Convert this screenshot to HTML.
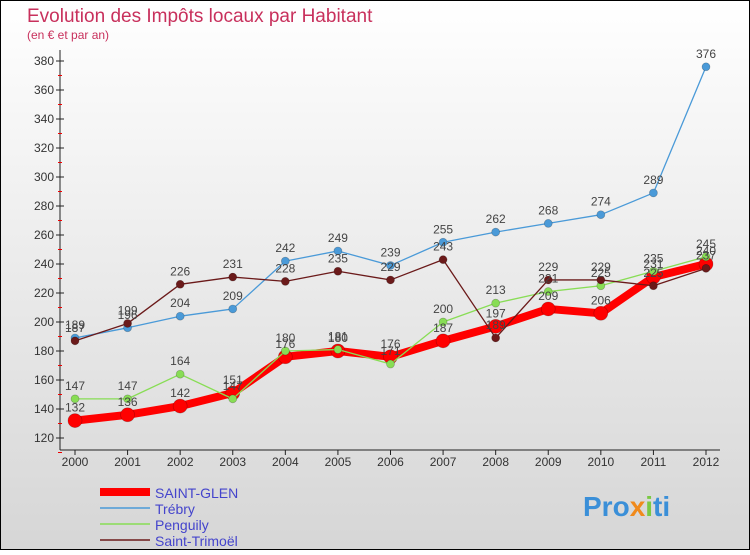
<!DOCTYPE html>
<html><head><meta charset="utf-8"><style>
body{margin:0;}
#c{width:750px;height:550px;position:relative;font-family:"Liberation Sans",sans-serif;}
</style></head><body>
<div id="c">
<svg width="750" height="550" xmlns="http://www.w3.org/2000/svg" id="svg">
<defs><linearGradient id="bg" x1="0" y1="0" x2="0" y2="1"><stop offset="0" stop-color="#ffffff"/><stop offset="1" stop-color="#d6d6d6"/></linearGradient></defs>
<rect x="0.5" y="0.5" width="749" height="549" fill="url(#bg)" stroke="#000"/>
<text x="27" y="22" font-size="19" fill="#c8305c">Evolution des Impôts locaux par Habitant</text>
<text x="27" y="39" font-size="12" fill="#c8305c">(en € et par an)</text>
<g id="axes"></g><g id="series"></g><g id="labels"></g>
<g>
<line x1="100" y1="492" x2="150" y2="492" stroke="#f00" stroke-width="8"/>
<text x="155" y="498" font-size="14" fill="#4444cc">SAINT-GLEN</text>
<line x1="100" y1="508" x2="150" y2="508" stroke="#4a9ad8" stroke-width="1.5"/>
<text x="155" y="514" font-size="14" fill="#4444cc">Trébry</text>
<line x1="100" y1="524" x2="150" y2="524" stroke="#88dd55" stroke-width="1.5"/>
<text x="155" y="530" font-size="14" fill="#4444cc">Penguily</text>
<line x1="100" y1="540" x2="150" y2="540" stroke="#6b1a1a" stroke-width="1.5"/>
<text x="155" y="546" font-size="14" fill="#4444cc">Saint-Trimoël</text>
</g>
<text x="583" y="516" font-size="28" font-weight="bold" fill="#3a8fd8">Pro<tspan fill="#f08a1c">x</tspan><tspan fill="#7ac943">i</tspan>ti</text>
</svg>
</div>
<script>
const years=[2000,2001,2002,2003,2004,2005,2006,2007,2008,2009,2010,2011,2012];
const yTicks=[120,140,160,180,200,220,240,260,280,300,320,340,360,380];
const saintGlen=[132,136,142,151,176,180,176,187,197,209,206,231,240];
const trebry=[189,196,204,209,242,249,239,255,262,268,274,289,376];
const penguily=[147,147,164,147,180,181,171,200,213,221,225,235,245];
const saintTrimoel=[187,199,226,231,228,235,229,243,189,229,229,225,237];
const NS="http://www.w3.org/2000/svg";
function xS(i){return 75+i*(706-75)/(years.length-1);}
function yS(v){return 438-(v-120)*(438-61)/260;}
function mk(t,a,p){const e=document.createElementNS(NS,t);for(const k in a)e.setAttribute(k,a[k]);p.appendChild(e);return e;}
const ax=document.getElementById('axes');
const axl=mk('line',{x1:60,y1:50,x2:60,y2:450,stroke:'#222'},ax);


const bx=mk('line',{x1:60,y1:450,x2:720,y2:450,stroke:'#222'},ax);


yTicks.forEach(v=>{
 const y=yS(v);
 mk('line',{x1:56,y1:y,x2:64,y2:y,stroke:'#222'},ax);
 mk('line',{x1:58,y1:y+14.5,x2:62,y2:y+14.5,stroke:'#e00'},ax);
 const t=mk('text',{x:54,y:y+4,'font-size':12,fill:'#333','text-anchor':'end'},ax);
 t.textContent=v;
 
 
});
years.forEach((yr,i)=>{
 const x=xS(i);
 mk('line',{x1:x,y1:450,x2:x,y2:455,stroke:'#222'},ax);
 const t=mk('text',{x:x,y:466,'font-size':12,fill:'#333','text-anchor':'middle'},ax);
 t.textContent=yr;
 
 
});
const sg=document.getElementById('series'),lg=document.getElementById('labels');
function series(data,color,w,r,name){
 const g=mk('g',{},sg);
 
 
 const pl=mk('polyline',{points:data.map((v,i)=>xS(i)+','+yS(v)).join(' '),fill:'none',stroke:color,'stroke-width':w,'stroke-linejoin':'round'},g);
 
 
 data.forEach((v,i)=>{
  const c=mk('circle',{cx:xS(i),cy:yS(v),r:r,fill:color,stroke:'rgba(0,0,0,0.25)','stroke-width':0.7},g);
  
  
  const t=mk('text',{x:xS(i),y:yS(v)-9,'font-size':12,fill:'#444','text-anchor':'middle'},lg);
  t.textContent=v;
  
  
 });
}
series(saintGlen,'#ff0000',8,7,'saint-glen');
series(trebry,'#4a9ad8',1.3,4,'trebry');
series(penguily,'#88dd55',1.3,4,'penguily');
series(saintTrimoel,'#6b1a1a',1.3,4,'saint-trimoel');
</script>
</body></html>
